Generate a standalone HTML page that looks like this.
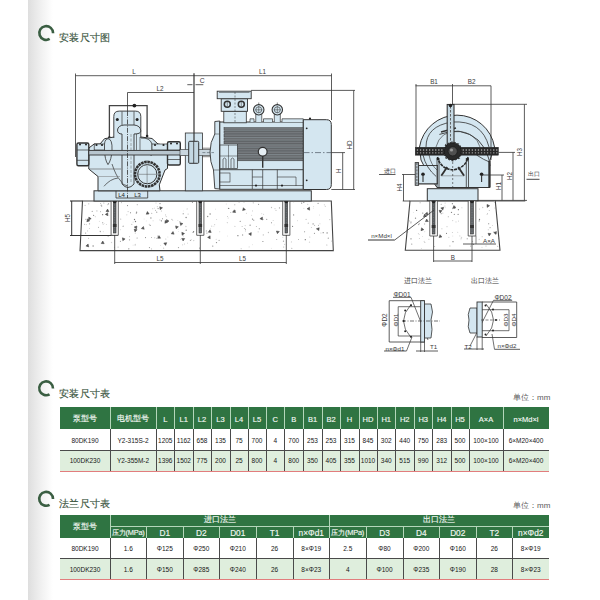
<!DOCTYPE html><html><head><meta charset="utf-8"><style>
*{margin:0;padding:0;box-sizing:border-box}
html,body{width:600px;height:600px;overflow:hidden;background:#fff;font-family:"Liberation Sans",sans-serif}
.a{position:absolute}
.shade{position:absolute;left:28px;top:0;width:25px;height:600px;background:linear-gradient(90deg,#dedede 0%,#e9e9e9 30%,#f3f3f3 60%,#fcfcfc 90%,#fff 100%)}
.ttl{position:absolute;font-size:10px;color:#3a5540;font-weight:normal;-webkit-text-stroke:0.15px #3a5540;letter-spacing:0.3px;line-height:12px;white-space:nowrap}
.unit{position:absolute;font-size:8px;color:#5a5a5a;line-height:10px;white-space:nowrap}
.c{position:absolute;display:flex;align-items:center;justify-content:center;white-space:nowrap;overflow:visible}
.h{color:#f2f7f2;font-size:7.5px;-webkit-text-stroke:0.15px #f2f7f2}
.d{color:#161616;font-size:6.5px}
</style></head><body>
<div class="shade"></div>
<div class="a" style="left:60px;top:407px;width:489px;height:22px;background:#2f7442"></div>
<div class="a" style="left:60px;top:450px;width:489px;height:21px;background:#dfeedd"></div>
<div class="c h" style="left:60px;top:407px;width:50px;height:22px;padding-top:2px;">泵型号</div>
<div class="c d" style="left:60px;top:429px;width:50px;height:21px;padding-top:2px;">80DK190</div>
<div class="c d" style="left:60px;top:450px;width:50px;height:21px;padding-top:0.3px;">100DK230</div>
<div class="c h" style="left:110px;top:407px;width:46px;height:22px;padding-top:2px;">电机型号</div>
<div class="c d" style="left:110px;top:429px;width:46px;height:21px;padding-top:2px;">Y2-315S-2</div>
<div class="c d" style="left:110px;top:450px;width:46px;height:21px;padding-top:0.3px;">Y2-355M-2</div>
<div class="c h" style="left:156px;top:407px;width:18.5px;height:22px;padding-top:2px;">L</div>
<div class="c d" style="left:156px;top:429px;width:18.5px;height:21px;padding-top:2px;">1205</div>
<div class="c d" style="left:156px;top:450px;width:18.5px;height:21px;padding-top:0.3px;">1396</div>
<div class="c h" style="left:174.5px;top:407px;width:18.5px;height:22px;padding-top:2px;">L1</div>
<div class="c d" style="left:174.5px;top:429px;width:18.5px;height:21px;padding-top:2px;">1162</div>
<div class="c d" style="left:174.5px;top:450px;width:18.5px;height:21px;padding-top:0.3px;">1502</div>
<div class="c h" style="left:193px;top:407px;width:18px;height:22px;padding-top:2px;">L2</div>
<div class="c d" style="left:193px;top:429px;width:18px;height:21px;padding-top:2px;">658</div>
<div class="c d" style="left:193px;top:450px;width:18px;height:21px;padding-top:0.3px;">775</div>
<div class="c h" style="left:211px;top:407px;width:19px;height:22px;padding-top:2px;">L3</div>
<div class="c d" style="left:211px;top:429px;width:19px;height:21px;padding-top:2px;">135</div>
<div class="c d" style="left:211px;top:450px;width:19px;height:21px;padding-top:0.3px;">200</div>
<div class="c h" style="left:230px;top:407px;width:18px;height:22px;padding-top:2px;">L4</div>
<div class="c d" style="left:230px;top:429px;width:18px;height:21px;padding-top:2px;">75</div>
<div class="c d" style="left:230px;top:450px;width:18px;height:21px;padding-top:0.3px;">25</div>
<div class="c h" style="left:248px;top:407px;width:18px;height:22px;padding-top:2px;">L5</div>
<div class="c d" style="left:248px;top:429px;width:18px;height:21px;padding-top:2px;">700</div>
<div class="c d" style="left:248px;top:450px;width:18px;height:21px;padding-top:0.3px;">800</div>
<div class="c h" style="left:266px;top:407px;width:18.5px;height:22px;padding-top:2px;">C</div>
<div class="c d" style="left:266px;top:429px;width:18.5px;height:21px;padding-top:2px;">4</div>
<div class="c d" style="left:266px;top:450px;width:18.5px;height:21px;padding-top:0.3px;">4</div>
<div class="c h" style="left:284.5px;top:407px;width:18.5px;height:22px;padding-top:2px;">B</div>
<div class="c d" style="left:284.5px;top:429px;width:18.5px;height:21px;padding-top:2px;">700</div>
<div class="c d" style="left:284.5px;top:450px;width:18.5px;height:21px;padding-top:0.3px;">800</div>
<div class="c h" style="left:303px;top:407px;width:19px;height:22px;padding-top:2px;">B1</div>
<div class="c d" style="left:303px;top:429px;width:19px;height:21px;padding-top:2px;">253</div>
<div class="c d" style="left:303px;top:450px;width:19px;height:21px;padding-top:0.3px;">350</div>
<div class="c h" style="left:322px;top:407px;width:18px;height:22px;padding-top:2px;">B2</div>
<div class="c d" style="left:322px;top:429px;width:18px;height:21px;padding-top:2px;">253</div>
<div class="c d" style="left:322px;top:450px;width:18px;height:21px;padding-top:0.3px;">405</div>
<div class="c h" style="left:340px;top:407px;width:19px;height:22px;padding-top:2px;">H</div>
<div class="c d" style="left:340px;top:429px;width:19px;height:21px;padding-top:2px;">315</div>
<div class="c d" style="left:340px;top:450px;width:19px;height:21px;padding-top:0.3px;">355</div>
<div class="c h" style="left:359px;top:407px;width:18px;height:22px;padding-top:2px;">HD</div>
<div class="c d" style="left:359px;top:429px;width:18px;height:21px;padding-top:2px;">845</div>
<div class="c d" style="left:359px;top:450px;width:18px;height:21px;padding-top:0.3px;">1010</div>
<div class="c h" style="left:377px;top:407px;width:18.5px;height:22px;padding-top:2px;">H1</div>
<div class="c d" style="left:377px;top:429px;width:18.5px;height:21px;padding-top:2px;">302</div>
<div class="c d" style="left:377px;top:450px;width:18.5px;height:21px;padding-top:0.3px;">340</div>
<div class="c h" style="left:395.5px;top:407px;width:18.5px;height:22px;padding-top:2px;">H2</div>
<div class="c d" style="left:395.5px;top:429px;width:18.5px;height:21px;padding-top:2px;">440</div>
<div class="c d" style="left:395.5px;top:450px;width:18.5px;height:21px;padding-top:0.3px;">515</div>
<div class="c h" style="left:414px;top:407px;width:18.5px;height:22px;padding-top:2px;">H3</div>
<div class="c d" style="left:414px;top:429px;width:18.5px;height:21px;padding-top:2px;">750</div>
<div class="c d" style="left:414px;top:450px;width:18.5px;height:21px;padding-top:0.3px;">990</div>
<div class="c h" style="left:432.5px;top:407px;width:18.5px;height:22px;padding-top:2px;">H4</div>
<div class="c d" style="left:432.5px;top:429px;width:18.5px;height:21px;padding-top:2px;">283</div>
<div class="c d" style="left:432.5px;top:450px;width:18.5px;height:21px;padding-top:0.3px;">312</div>
<div class="c h" style="left:451px;top:407px;width:18px;height:22px;padding-top:2px;">H5</div>
<div class="c d" style="left:451px;top:429px;width:18px;height:21px;padding-top:2px;">500</div>
<div class="c d" style="left:451px;top:450px;width:18px;height:21px;padding-top:0.3px;">500</div>
<div class="c h" style="left:469px;top:407px;width:34px;height:22px;padding-top:2px;">A×A</div>
<div class="c d" style="left:469px;top:429px;width:34px;height:21px;padding-top:2px;">100×100</div>
<div class="c d" style="left:469px;top:450px;width:34px;height:21px;padding-top:0.3px;">100×100</div>
<div class="c h" style="left:503px;top:407px;width:46px;height:22px;padding-top:2px;">n×Md×l</div>
<div class="c d" style="left:503px;top:429px;width:46px;height:21px;padding-top:2px;">6×M20×400</div>
<div class="c d" style="left:503px;top:450px;width:46px;height:21px;padding-top:0.3px;">6×M20×400</div>
<div class="a" style="left:109.5px;top:407px;width:1px;height:22px;background:#b4d6ba"></div>
<div class="a" style="left:109.5px;top:429px;width:1px;height:42px;background:#4a4a4a"></div>
<div class="a" style="left:155.5px;top:407px;width:1px;height:22px;background:#b4d6ba"></div>
<div class="a" style="left:155.5px;top:429px;width:1px;height:42px;background:#4a4a4a"></div>
<div class="a" style="left:174.0px;top:407px;width:1px;height:22px;background:#b4d6ba"></div>
<div class="a" style="left:174.0px;top:429px;width:1px;height:42px;background:#4a4a4a"></div>
<div class="a" style="left:192.5px;top:407px;width:1px;height:22px;background:#b4d6ba"></div>
<div class="a" style="left:192.5px;top:429px;width:1px;height:42px;background:#4a4a4a"></div>
<div class="a" style="left:210.5px;top:407px;width:1px;height:22px;background:#b4d6ba"></div>
<div class="a" style="left:210.5px;top:429px;width:1px;height:42px;background:#4a4a4a"></div>
<div class="a" style="left:229.5px;top:407px;width:1px;height:22px;background:#b4d6ba"></div>
<div class="a" style="left:229.5px;top:429px;width:1px;height:42px;background:#4a4a4a"></div>
<div class="a" style="left:247.5px;top:407px;width:1px;height:22px;background:#b4d6ba"></div>
<div class="a" style="left:247.5px;top:429px;width:1px;height:42px;background:#4a4a4a"></div>
<div class="a" style="left:265.5px;top:407px;width:1px;height:22px;background:#b4d6ba"></div>
<div class="a" style="left:265.5px;top:429px;width:1px;height:42px;background:#4a4a4a"></div>
<div class="a" style="left:284.0px;top:407px;width:1px;height:22px;background:#b4d6ba"></div>
<div class="a" style="left:284.0px;top:429px;width:1px;height:42px;background:#4a4a4a"></div>
<div class="a" style="left:302.5px;top:407px;width:1px;height:22px;background:#b4d6ba"></div>
<div class="a" style="left:302.5px;top:429px;width:1px;height:42px;background:#4a4a4a"></div>
<div class="a" style="left:321.5px;top:407px;width:1px;height:22px;background:#b4d6ba"></div>
<div class="a" style="left:321.5px;top:429px;width:1px;height:42px;background:#4a4a4a"></div>
<div class="a" style="left:339.5px;top:407px;width:1px;height:22px;background:#b4d6ba"></div>
<div class="a" style="left:339.5px;top:429px;width:1px;height:42px;background:#4a4a4a"></div>
<div class="a" style="left:358.5px;top:407px;width:1px;height:22px;background:#b4d6ba"></div>
<div class="a" style="left:358.5px;top:429px;width:1px;height:42px;background:#4a4a4a"></div>
<div class="a" style="left:376.5px;top:407px;width:1px;height:22px;background:#b4d6ba"></div>
<div class="a" style="left:376.5px;top:429px;width:1px;height:42px;background:#4a4a4a"></div>
<div class="a" style="left:395.0px;top:407px;width:1px;height:22px;background:#b4d6ba"></div>
<div class="a" style="left:395.0px;top:429px;width:1px;height:42px;background:#4a4a4a"></div>
<div class="a" style="left:413.5px;top:407px;width:1px;height:22px;background:#b4d6ba"></div>
<div class="a" style="left:413.5px;top:429px;width:1px;height:42px;background:#4a4a4a"></div>
<div class="a" style="left:432.0px;top:407px;width:1px;height:22px;background:#b4d6ba"></div>
<div class="a" style="left:432.0px;top:429px;width:1px;height:42px;background:#4a4a4a"></div>
<div class="a" style="left:450.5px;top:407px;width:1px;height:22px;background:#b4d6ba"></div>
<div class="a" style="left:450.5px;top:429px;width:1px;height:42px;background:#4a4a4a"></div>
<div class="a" style="left:468.5px;top:407px;width:1px;height:22px;background:#b4d6ba"></div>
<div class="a" style="left:468.5px;top:429px;width:1px;height:42px;background:#4a4a4a"></div>
<div class="a" style="left:502.5px;top:407px;width:1px;height:22px;background:#b4d6ba"></div>
<div class="a" style="left:502.5px;top:429px;width:1px;height:42px;background:#4a4a4a"></div>
<div class="a" style="left:60px;top:449.5px;width:489px;height:1px;background:#4a4a4a"></div>
<div class="a" style="left:60px;top:470.5px;width:489px;height:1.2px;background:#e27d7d"></div>
<div class="a" style="left:60px;top:514.5px;width:489px;height:23.0px;background:#2f7442"></div>
<div class="a" style="left:60px;top:558px;width:489px;height:21px;background:#dfeedd"></div>
<div class="c h" style="left:60px;top:514.5px;width:50px;height:23.0px;padding-top:2px;">泵型号</div>
<div class="c h" style="left:110px;top:514.5px;width:219.5px;height:11.5px;">进口法兰</div>
<div class="c h" style="left:329.5px;top:514.5px;width:219.5px;height:11.5px;">出口法兰</div>
<div class="c h" style="left:110px;top:526px;width:36.5px;height:11.5px;padding-top:1.5px;font-size:7.4px;letter-spacing:-0.2px;">压力(MPa)</div>
<div class="c h" style="left:146.5px;top:526px;width:36.5px;height:11.5px;padding-top:1.5px;font-size:8.3px;">D1</div>
<div class="c h" style="left:183px;top:526px;width:36.5px;height:11.5px;padding-top:1.5px;font-size:8.3px;">D2</div>
<div class="c h" style="left:219.5px;top:526px;width:36.5px;height:11.5px;padding-top:1.5px;font-size:8.3px;">D01</div>
<div class="c h" style="left:256px;top:526px;width:37px;height:11.5px;padding-top:1.5px;font-size:8.3px;">T1</div>
<div class="c h" style="left:293px;top:526px;width:36.5px;height:11.5px;padding-top:1.5px;font-size:8.3px;">n×Φd1</div>
<div class="c h" style="left:329.5px;top:526px;width:36.5px;height:11.5px;padding-top:1.5px;font-size:7.4px;letter-spacing:-0.2px;">压力(MPa)</div>
<div class="c h" style="left:366px;top:526px;width:37px;height:11.5px;padding-top:1.5px;font-size:8.3px;">D3</div>
<div class="c h" style="left:403px;top:526px;width:36.5px;height:11.5px;padding-top:1.5px;font-size:8.3px;">D4</div>
<div class="c h" style="left:439.5px;top:526px;width:36.5px;height:11.5px;padding-top:1.5px;font-size:8.3px;">D02</div>
<div class="c h" style="left:476px;top:526px;width:36.5px;height:11.5px;padding-top:1.5px;font-size:8.3px;">T2</div>
<div class="c h" style="left:512.5px;top:526px;width:36.5px;height:11.5px;padding-top:1.5px;font-size:8.3px;">n×Φd2</div>
<div class="c d" style="left:60px;top:537.5px;width:50px;height:20.5px;padding-top:2px;">80DK190</div>
<div class="c d" style="left:60px;top:558px;width:50px;height:21px;padding-top:1px;">100DK230</div>
<div class="c d" style="left:110px;top:537.5px;width:36.5px;height:20.5px;padding-top:2px;">1.6</div>
<div class="c d" style="left:110px;top:558px;width:36.5px;height:21px;padding-top:1px;">1.6</div>
<div class="c d" style="left:146.5px;top:537.5px;width:36.5px;height:20.5px;padding-top:2px;">Φ125</div>
<div class="c d" style="left:146.5px;top:558px;width:36.5px;height:21px;padding-top:1px;">Φ150</div>
<div class="c d" style="left:183px;top:537.5px;width:36.5px;height:20.5px;padding-top:2px;">Φ250</div>
<div class="c d" style="left:183px;top:558px;width:36.5px;height:21px;padding-top:1px;">Φ285</div>
<div class="c d" style="left:219.5px;top:537.5px;width:36.5px;height:20.5px;padding-top:2px;">Φ210</div>
<div class="c d" style="left:219.5px;top:558px;width:36.5px;height:21px;padding-top:1px;">Φ240</div>
<div class="c d" style="left:256px;top:537.5px;width:37px;height:20.5px;padding-top:2px;">26</div>
<div class="c d" style="left:256px;top:558px;width:37px;height:21px;padding-top:1px;">26</div>
<div class="c d" style="left:293px;top:537.5px;width:36.5px;height:20.5px;padding-top:2px;">8×Φ19</div>
<div class="c d" style="left:293px;top:558px;width:36.5px;height:21px;padding-top:1px;">8×Φ23</div>
<div class="c d" style="left:329.5px;top:537.5px;width:36.5px;height:20.5px;padding-top:2px;">2.5</div>
<div class="c d" style="left:329.5px;top:558px;width:36.5px;height:21px;padding-top:1px;">4</div>
<div class="c d" style="left:366px;top:537.5px;width:37px;height:20.5px;padding-top:2px;">Φ80</div>
<div class="c d" style="left:366px;top:558px;width:37px;height:21px;padding-top:1px;">Φ100</div>
<div class="c d" style="left:403px;top:537.5px;width:36.5px;height:20.5px;padding-top:2px;">Φ200</div>
<div class="c d" style="left:403px;top:558px;width:36.5px;height:21px;padding-top:1px;">Φ235</div>
<div class="c d" style="left:439.5px;top:537.5px;width:36.5px;height:20.5px;padding-top:2px;">Φ160</div>
<div class="c d" style="left:439.5px;top:558px;width:36.5px;height:21px;padding-top:1px;">Φ190</div>
<div class="c d" style="left:476px;top:537.5px;width:36.5px;height:20.5px;padding-top:2px;">26</div>
<div class="c d" style="left:476px;top:558px;width:36.5px;height:21px;padding-top:1px;">28</div>
<div class="c d" style="left:512.5px;top:537.5px;width:36.5px;height:20.5px;padding-top:2px;">8×Φ19</div>
<div class="c d" style="left:512.5px;top:558px;width:36.5px;height:21px;padding-top:1px;">8×Φ23</div>
<div class="a" style="left:110px;top:525.5px;width:439px;height:1px;background:#b4d6ba"></div>
<div class="a" style="left:109.5px;top:514.5px;width:1px;height:23.0px;background:#b4d6ba"></div>
<div class="a" style="left:109.5px;top:537.5px;width:1px;height:41.5px;background:#4a4a4a"></div>
<div class="a" style="left:146.0px;top:526px;width:1px;height:11.5px;background:#b4d6ba"></div>
<div class="a" style="left:146.0px;top:537.5px;width:1px;height:41.5px;background:#4a4a4a"></div>
<div class="a" style="left:182.5px;top:526px;width:1px;height:11.5px;background:#b4d6ba"></div>
<div class="a" style="left:182.5px;top:537.5px;width:1px;height:41.5px;background:#4a4a4a"></div>
<div class="a" style="left:219.0px;top:526px;width:1px;height:11.5px;background:#b4d6ba"></div>
<div class="a" style="left:219.0px;top:537.5px;width:1px;height:41.5px;background:#4a4a4a"></div>
<div class="a" style="left:255.5px;top:526px;width:1px;height:11.5px;background:#b4d6ba"></div>
<div class="a" style="left:255.5px;top:537.5px;width:1px;height:41.5px;background:#4a4a4a"></div>
<div class="a" style="left:292.5px;top:526px;width:1px;height:11.5px;background:#b4d6ba"></div>
<div class="a" style="left:292.5px;top:537.5px;width:1px;height:41.5px;background:#4a4a4a"></div>
<div class="a" style="left:329.0px;top:514.5px;width:1px;height:23.0px;background:#b4d6ba"></div>
<div class="a" style="left:329.0px;top:537.5px;width:1px;height:41.5px;background:#4a4a4a"></div>
<div class="a" style="left:365.5px;top:526px;width:1px;height:11.5px;background:#b4d6ba"></div>
<div class="a" style="left:365.5px;top:537.5px;width:1px;height:41.5px;background:#4a4a4a"></div>
<div class="a" style="left:402.5px;top:526px;width:1px;height:11.5px;background:#b4d6ba"></div>
<div class="a" style="left:402.5px;top:537.5px;width:1px;height:41.5px;background:#4a4a4a"></div>
<div class="a" style="left:439.0px;top:526px;width:1px;height:11.5px;background:#b4d6ba"></div>
<div class="a" style="left:439.0px;top:537.5px;width:1px;height:41.5px;background:#4a4a4a"></div>
<div class="a" style="left:475.5px;top:526px;width:1px;height:11.5px;background:#b4d6ba"></div>
<div class="a" style="left:475.5px;top:537.5px;width:1px;height:41.5px;background:#4a4a4a"></div>
<div class="a" style="left:512.0px;top:526px;width:1px;height:11.5px;background:#b4d6ba"></div>
<div class="a" style="left:512.0px;top:537.5px;width:1px;height:41.5px;background:#4a4a4a"></div>
<div class="a" style="left:60px;top:557.5px;width:489px;height:1px;background:#4a4a4a"></div>
<div class="a" style="left:60px;top:578.5px;width:489px;height:1.2px;background:#e27d7d"></div>
<div class="ttl" style="left:59px;top:32.3px">安装尺寸图</div>
<div class="ttl" style="left:59px;top:387.5px">安装尺寸表</div>
<div class="ttl" style="left:59px;top:498px">法兰尺寸表</div>
<div class="unit" style="left:513px;top:392.5px">单位：mm</div>
<div class="unit" style="left:513px;top:501px">单位：mm</div>
<svg class="a" style="left:0;top:0" width="600" height="600" viewBox="0 0 600 600"><path d="M53.10,33.24 A6.9,6.9 0 1 0 49.65,38.98" fill="none" stroke="#3a5e42" stroke-width="2.6"/><path d="M53.00,388.54 A6.9,6.9 0 1 0 49.55,394.28" fill="none" stroke="#3a5e42" stroke-width="2.6"/><path d="M53.00,499.04 A6.9,6.9 0 1 0 49.55,504.78" fill="none" stroke="#3a5e42" stroke-width="2.6"/><path d="M82.5,201 L331.3,201 L333.3,250.6 L80,250.6 Z" fill="#fff" stroke="#444" stroke-width="1.1" /><circle cx="313.1" cy="223.9" r="0.65" fill="#888"/><circle cx="129.5" cy="239.8" r="0.65" fill="#a0a0a0"/><circle cx="235.5" cy="210.8" r="0.55" fill="#a0a0a0"/><circle cx="304.6" cy="231.8" r="0.55" fill="#888"/><circle cx="323.2" cy="232.7" r="0.65" fill="#888"/><circle cx="121.4" cy="202.7" r="0.45" fill="#888"/><circle cx="96.9" cy="210.9" r="0.65" fill="#bdbdbd"/><circle cx="89.5" cy="223.8" r="0.65" fill="#a0a0a0"/><circle cx="292.6" cy="226.4" r="0.55" fill="#777"/><circle cx="206.9" cy="233.1" r="0.65" fill="#a0a0a0"/><circle cx="151.5" cy="248.9" r="0.65" fill="#c8c8c8"/><circle cx="145.5" cy="237.6" r="0.55" fill="#888"/><circle cx="89.4" cy="228.5" r="0.55" fill="#c8c8c8"/><circle cx="109.0" cy="215.7" r="0.45" fill="#c8c8c8"/><circle cx="293.8" cy="202.0" r="0.45" fill="#bdbdbd"/><circle cx="199.5" cy="248.1" r="0.55" fill="#a0a0a0"/><circle cx="100.3" cy="231.6" r="0.55" fill="#777"/><circle cx="166.2" cy="216.6" r="0.55" fill="#c8c8c8"/><circle cx="271.5" cy="207.5" r="0.65" fill="#bdbdbd"/><circle cx="107.3" cy="204.8" r="0.45" fill="#a0a0a0"/><circle cx="252.5" cy="210.9" r="0.45" fill="#888"/><circle cx="328.3" cy="238.2" r="0.65" fill="#a0a0a0"/><circle cx="177.9" cy="220.6" r="0.45" fill="#bdbdbd"/><circle cx="149.4" cy="247.6" r="0.55" fill="#888"/><circle cx="128.8" cy="248.8" r="0.65" fill="#888"/><circle cx="226.2" cy="204.0" r="0.45" fill="#bdbdbd"/><circle cx="192.4" cy="202.5" r="0.55" fill="#888"/><circle cx="100.6" cy="211.8" r="0.45" fill="#777"/><circle cx="85.9" cy="219.3" r="0.55" fill="#888"/><circle cx="178.5" cy="231.5" r="0.45" fill="#d2d2d2"/><circle cx="129.5" cy="236.8" r="0.45" fill="#888"/><circle cx="253.7" cy="220.2" r="0.65" fill="#a0a0a0"/><circle cx="101.6" cy="204.2" r="0.45" fill="#c8c8c8"/><circle cx="210.1" cy="214.0" r="0.65" fill="#777"/><circle cx="179.9" cy="221.8" r="0.55" fill="#888"/><circle cx="155.4" cy="210.2" r="0.45" fill="#777"/><circle cx="245.4" cy="230.9" r="0.55" fill="#c8c8c8"/><circle cx="135.1" cy="245.0" r="0.45" fill="#777"/><circle cx="99.3" cy="221.3" r="0.45" fill="#bdbdbd"/><circle cx="93.6" cy="215.3" r="0.65" fill="#888"/><circle cx="325.3" cy="206.3" r="0.55" fill="#bdbdbd"/><circle cx="327.1" cy="232.9" r="0.65" fill="#777"/><circle cx="228.1" cy="208.6" r="0.45" fill="#c8c8c8"/><circle cx="160.0" cy="203.6" r="0.65" fill="#888"/><circle cx="100.7" cy="205.2" r="0.55" fill="#d2d2d2"/><circle cx="93.1" cy="246.0" r="0.65" fill="#777"/><circle cx="114.4" cy="247.3" r="0.55" fill="#d2d2d2"/><circle cx="103.2" cy="224.2" r="0.55" fill="#c8c8c8"/><circle cx="318.1" cy="203.4" r="0.65" fill="#a0a0a0"/><circle cx="85.6" cy="233.1" r="0.65" fill="#a0a0a0"/><circle cx="85.1" cy="205.4" r="0.65" fill="#c8c8c8"/><circle cx="186.1" cy="217.5" r="0.65" fill="#777"/><circle cx="227.2" cy="222.7" r="0.45" fill="#888"/><circle cx="211.7" cy="226.2" r="0.65" fill="#d2d2d2"/><circle cx="103.9" cy="203.0" r="0.45" fill="#777"/><circle cx="206.3" cy="230.9" r="0.55" fill="#a0a0a0"/><circle cx="306.1" cy="219.3" r="0.65" fill="#bdbdbd"/><circle cx="234.9" cy="226.4" r="0.65" fill="#d2d2d2"/><circle cx="314.6" cy="225.4" r="0.55" fill="#bdbdbd"/><circle cx="183.2" cy="213.8" r="0.55" fill="#777"/><circle cx="282.9" cy="237.5" r="0.45" fill="#bdbdbd"/><circle cx="178.1" cy="229.4" r="0.45" fill="#d2d2d2"/><circle cx="291.3" cy="241.9" r="0.45" fill="#777"/><circle cx="319.5" cy="215.0" r="0.45" fill="#bdbdbd"/><circle cx="135.5" cy="221.5" r="0.65" fill="#777"/><circle cx="291.8" cy="248.2" r="0.55" fill="#a0a0a0"/><circle cx="100.7" cy="203.5" r="0.45" fill="#888"/><circle cx="251.6" cy="215.2" r="0.55" fill="#d2d2d2"/><circle cx="244.3" cy="228.5" r="0.45" fill="#777"/><circle cx="183.3" cy="210.9" r="0.45" fill="#d2d2d2"/><circle cx="276.8" cy="239.5" r="0.45" fill="#777"/><circle cx="193.6" cy="231.6" r="0.65" fill="#777"/><circle cx="283.8" cy="247.0" r="0.45" fill="#777"/><circle cx="131.8" cy="224.3" r="0.65" fill="#bdbdbd"/><circle cx="84.7" cy="224.2" r="0.45" fill="#777"/><circle cx="126.8" cy="214.8" r="0.65" fill="#d2d2d2"/><circle cx="256.3" cy="226.5" r="0.45" fill="#888"/><circle cx="180.4" cy="239.2" r="0.45" fill="#bdbdbd"/><circle cx="184.6" cy="244.0" r="0.45" fill="#a0a0a0"/><circle cx="303.8" cy="202.3" r="0.65" fill="#888"/><circle cx="245.2" cy="225.6" r="0.55" fill="#d2d2d2"/><circle cx="163.6" cy="248.2" r="0.65" fill="#c8c8c8"/><circle cx="298.5" cy="239.5" r="0.45" fill="#777"/><circle cx="135.3" cy="244.3" r="0.55" fill="#c8c8c8"/><circle cx="216.2" cy="239.2" r="0.55" fill="#d2d2d2"/><circle cx="309.5" cy="242.2" r="0.65" fill="#d2d2d2"/><circle cx="102.7" cy="222.7" r="0.55" fill="#888"/><circle cx="274.1" cy="224.9" r="0.45" fill="#c8c8c8"/><circle cx="165.8" cy="239.0" r="0.55" fill="#bdbdbd"/><circle cx="262.9" cy="241.5" r="0.55" fill="#777"/><circle cx="318.4" cy="225.2" r="0.45" fill="#777"/><circle cx="271.5" cy="222.7" r="0.55" fill="#888"/><circle cx="123.1" cy="226.2" r="0.55" fill="#888"/><circle cx="159.9" cy="219.9" r="0.45" fill="#888"/><circle cx="158.1" cy="208.6" r="0.65" fill="#888"/><circle cx="150.2" cy="225.4" r="0.65" fill="#a0a0a0"/><circle cx="176.3" cy="227.3" r="0.65" fill="#c8c8c8"/><circle cx="311.3" cy="227.6" r="0.45" fill="#888"/><circle cx="98.5" cy="227.3" r="0.55" fill="#a0a0a0"/><circle cx="149.3" cy="224.2" r="0.55" fill="#bdbdbd"/><circle cx="190.4" cy="240.3" r="0.65" fill="#a0a0a0"/><circle cx="161.3" cy="211.0" r="0.45" fill="#888"/><circle cx="313.3" cy="208.1" r="0.45" fill="#c8c8c8"/><circle cx="130.5" cy="212.7" r="0.55" fill="#777"/><circle cx="162.5" cy="218.7" r="0.55" fill="#888"/><circle cx="108.2" cy="236.4" r="0.65" fill="#c8c8c8"/><circle cx="237.9" cy="235.7" r="0.65" fill="#777"/><circle cx="301.7" cy="203.1" r="0.55" fill="#777"/><circle cx="216.5" cy="242.6" r="0.65" fill="#888"/><circle cx="136.6" cy="212.2" r="0.65" fill="#888"/><circle cx="228.7" cy="208.4" r="0.65" fill="#777"/><circle cx="284.6" cy="244.4" r="0.65" fill="#d2d2d2"/><circle cx="160.7" cy="245.4" r="0.45" fill="#bdbdbd"/><circle cx="303.9" cy="208.3" r="0.45" fill="#bdbdbd"/><circle cx="263.6" cy="214.2" r="0.55" fill="#c8c8c8"/><circle cx="279.5" cy="207.9" r="0.65" fill="#a0a0a0"/><circle cx="253.3" cy="202.8" r="0.65" fill="#bdbdbd"/><circle cx="252.6" cy="244.8" r="0.45" fill="#d2d2d2"/><circle cx="258.2" cy="231.8" r="0.65" fill="#d2d2d2"/><circle cx="331.6" cy="241.1" r="0.55" fill="#c8c8c8"/><circle cx="108.5" cy="203.8" r="0.65" fill="#888"/><circle cx="210.7" cy="228.7" r="0.45" fill="#bdbdbd"/><circle cx="128.1" cy="211.6" r="0.55" fill="#bdbdbd"/><circle cx="313.7" cy="206.5" r="0.45" fill="#c8c8c8"/><circle cx="319.9" cy="223.7" r="0.55" fill="#c8c8c8"/><circle cx="179.7" cy="222.0" r="0.55" fill="#d2d2d2"/><circle cx="134.5" cy="219.5" r="0.65" fill="#777"/><circle cx="92.2" cy="211.4" r="0.55" fill="#a0a0a0"/><circle cx="171.9" cy="219.4" r="0.65" fill="#bdbdbd"/><circle cx="123.3" cy="226.1" r="0.55" fill="#c8c8c8"/><circle cx="305.3" cy="239.7" r="0.65" fill="#777"/><circle cx="316.9" cy="228.8" r="0.65" fill="#bdbdbd"/><circle cx="228.2" cy="218.0" r="0.55" fill="#d2d2d2"/><circle cx="309.8" cy="237.0" r="0.55" fill="#bdbdbd"/><circle cx="216.7" cy="219.4" r="0.45" fill="#a0a0a0"/><circle cx="183.4" cy="236.0" r="0.55" fill="#c8c8c8"/><circle cx="157.4" cy="206.7" r="0.65" fill="#d2d2d2"/><circle cx="307.7" cy="204.3" r="0.65" fill="#d2d2d2"/><circle cx="156.7" cy="212.2" r="0.65" fill="#a0a0a0"/><circle cx="127.5" cy="205.6" r="0.55" fill="#888"/><circle cx="242.6" cy="235.0" r="0.65" fill="#a0a0a0"/><circle cx="87.7" cy="230.9" r="0.45" fill="#777"/><circle cx="146.2" cy="220.9" r="0.45" fill="#c8c8c8"/><circle cx="244.0" cy="202.5" r="0.55" fill="#d2d2d2"/><circle cx="150.9" cy="218.0" r="0.65" fill="#888"/><circle cx="185.9" cy="226.5" r="0.65" fill="#c8c8c8"/><circle cx="193.1" cy="232.3" r="0.65" fill="#888"/><circle cx="249.1" cy="246.9" r="0.45" fill="#a0a0a0"/><circle cx="178.5" cy="247.6" r="0.65" fill="#a0a0a0"/><circle cx="234.8" cy="204.8" r="0.55" fill="#a0a0a0"/><circle cx="153.1" cy="220.7" r="0.55" fill="#d2d2d2"/><circle cx="214.6" cy="224.7" r="0.65" fill="#d2d2d2"/><circle cx="314.4" cy="233.2" r="0.55" fill="#777"/><circle cx="88.7" cy="238.3" r="0.45" fill="#888"/><circle cx="240.2" cy="221.2" r="0.55" fill="#777"/><circle cx="95.2" cy="216.8" r="0.45" fill="#a0a0a0"/><circle cx="227.4" cy="236.0" r="0.45" fill="#d2d2d2"/><circle cx="261.8" cy="213.8" r="0.45" fill="#bdbdbd"/><circle cx="212.8" cy="246.1" r="0.55" fill="#777"/><circle cx="118.1" cy="247.1" r="0.65" fill="#bdbdbd"/><circle cx="258.6" cy="204.4" r="0.55" fill="#a0a0a0"/><circle cx="111.5" cy="242.5" r="0.65" fill="#d2d2d2"/><circle cx="120.7" cy="219.1" r="0.65" fill="#bdbdbd"/><circle cx="186.2" cy="230.2" r="0.65" fill="#777"/><circle cx="252.5" cy="219.1" r="0.65" fill="#777"/><circle cx="154.5" cy="208.1" r="0.45" fill="#a0a0a0"/><circle cx="207.7" cy="216.5" r="0.65" fill="#888"/><circle cx="293.6" cy="214.9" r="0.65" fill="#888"/><circle cx="263.3" cy="234.9" r="0.65" fill="#bdbdbd"/><circle cx="151.7" cy="213.3" r="0.65" fill="#bdbdbd"/><circle cx="326.9" cy="245.0" r="0.45" fill="#777"/><circle cx="239.1" cy="202.4" r="0.55" fill="#d2d2d2"/><circle cx="88.7" cy="203.8" r="0.65" fill="#bdbdbd"/><circle cx="151.6" cy="237.5" r="0.45" fill="#777"/><circle cx="219.7" cy="231.7" r="0.55" fill="#d2d2d2"/><circle cx="167.9" cy="237.0" r="0.45" fill="#c8c8c8"/><circle cx="193.8" cy="240.6" r="0.55" fill="#bdbdbd"/><circle cx="188.1" cy="214.1" r="0.55" fill="#bdbdbd"/><circle cx="120.4" cy="241.3" r="0.55" fill="#888"/><circle cx="154.7" cy="237.7" r="0.55" fill="#bdbdbd"/><circle cx="245.5" cy="229.3" r="0.55" fill="#a0a0a0"/><circle cx="101.6" cy="205.9" r="0.65" fill="#888"/><circle cx="156.7" cy="238.4" r="0.55" fill="#c8c8c8"/><circle cx="135.3" cy="233.1" r="0.65" fill="#c8c8c8"/><circle cx="158.0" cy="236.1" r="0.55" fill="#777"/><circle cx="152.7" cy="208.7" r="0.65" fill="#d2d2d2"/><circle cx="263.5" cy="219.2" r="0.55" fill="#c8c8c8"/><circle cx="259.3" cy="228.8" r="0.55" fill="#777"/><circle cx="191.5" cy="239.7" r="0.55" fill="#d2d2d2"/><circle cx="161.4" cy="220.8" r="0.65" fill="#777"/><circle cx="144.1" cy="219.0" r="0.45" fill="#d2d2d2"/><circle cx="172.8" cy="220.6" r="0.45" fill="#a0a0a0"/><circle cx="266.7" cy="219.3" r="0.65" fill="#a0a0a0"/><circle cx="120.7" cy="229.8" r="0.45" fill="#bdbdbd"/><circle cx="104.4" cy="223.4" r="0.45" fill="#d2d2d2"/><circle cx="137.3" cy="204.7" r="0.65" fill="#bdbdbd"/><circle cx="156.0" cy="203.0" r="0.45" fill="#a0a0a0"/><circle cx="227.5" cy="216.4" r="0.45" fill="#888"/><circle cx="165.6" cy="214.9" r="0.55" fill="#c8c8c8"/><circle cx="103.2" cy="231.8" r="0.45" fill="#bdbdbd"/><circle cx="268.4" cy="232.5" r="0.65" fill="#bdbdbd"/><circle cx="137.1" cy="238.0" r="0.55" fill="#888"/><circle cx="273.2" cy="220.5" r="0.55" fill="#d2d2d2"/><circle cx="250.1" cy="225.2" r="0.65" fill="#888"/><circle cx="100.1" cy="231.1" r="0.55" fill="#c8c8c8"/><circle cx="271.3" cy="248.3" r="0.45" fill="#d2d2d2"/><circle cx="283.5" cy="241.2" r="0.65" fill="#a0a0a0"/><circle cx="242.1" cy="226.6" r="0.45" fill="#777"/><circle cx="187.1" cy="208.9" r="0.45" fill="#777"/><circle cx="329.8" cy="219.6" r="0.55" fill="#bdbdbd"/><circle cx="133.1" cy="222.0" r="0.55" fill="#d2d2d2"/><circle cx="324.4" cy="204.8" r="0.65" fill="#d2d2d2"/><circle cx="276.0" cy="210.4" r="0.55" fill="#c8c8c8"/><circle cx="86.3" cy="224.6" r="0.55" fill="#c8c8c8"/><circle cx="136.3" cy="213.1" r="0.55" fill="#777"/><circle cx="230.7" cy="212.5" r="0.55" fill="#bdbdbd"/><circle cx="182.6" cy="244.8" r="0.65" fill="#d2d2d2"/><circle cx="219.1" cy="240.4" r="0.55" fill="#a0a0a0"/><circle cx="320.9" cy="233.0" r="0.55" fill="#c8c8c8"/><circle cx="297.6" cy="220.8" r="0.45" fill="#bdbdbd"/><circle cx="213.9" cy="226.2" r="0.45" fill="#d2d2d2"/><circle cx="246.4" cy="213.2" r="0.55" fill="#c8c8c8"/><circle cx="308.3" cy="223.2" r="0.65" fill="#bdbdbd"/><circle cx="187.4" cy="243.1" r="0.45" fill="#a0a0a0"/><circle cx="275.0" cy="208.8" r="0.45" fill="#888"/><circle cx="241.2" cy="248.7" r="0.65" fill="#d2d2d2"/><circle cx="215.6" cy="209.1" r="0.45" fill="#bdbdbd"/><circle cx="133.1" cy="245.1" r="0.45" fill="#bdbdbd"/><circle cx="102.6" cy="214.7" r="0.65" fill="#777"/><circle cx="106.3" cy="224.6" r="0.45" fill="#a0a0a0"/><polygon points="319.2,227.7 318.8,230.6 316.5,228.8" fill="#555" stroke="#444" stroke-width="0.5"/><polygon points="157.6,238.2 159.1,235.7 160.5,238.2" fill="#555" stroke="#444" stroke-width="0.5"/><polygon points="309.5,207.2 309.6,210.2 307.0,208.8" fill="#555" stroke="#444" stroke-width="0.5"/><polygon points="134.2,227.0 136.9,226.0 136.5,228.9" fill="#555" stroke="#444" stroke-width="0.5"/><polygon points="122.8,240.7 122.4,237.8 125.1,238.9" fill="#555" stroke="#444" stroke-width="0.5"/><polygon points="160.2,209.7 159.7,206.8 162.5,207.8" fill="#555" stroke="#444" stroke-width="0.5"/><polygon points="174.1,234.2 171.2,233.8 173.0,231.5" fill="#555" stroke="#444" stroke-width="0.5"/><polygon points="182.9,223.6 180.7,225.5 180.1,222.7" fill="#555" stroke="#444" stroke-width="0.5"/><polygon points="87.6,218.8 89.7,220.9 86.8,221.7" fill="#555" stroke="#444" stroke-width="0.5"/><polygon points="141.3,228.6 143.4,226.5 144.2,229.3" fill="#555" stroke="#444" stroke-width="0.5"/><polygon points="88.1,244.0 88.7,246.9 85.9,246.0" fill="#555" stroke="#444" stroke-width="0.5"/><polygon points="135.0,231.9 134.2,229.1 137.1,229.8" fill="#555" stroke="#444" stroke-width="0.5"/><polygon points="176.2,228.8 175.6,225.9 178.4,226.8" fill="#555" stroke="#444" stroke-width="0.5"/><polygon points="166.5,219.6 169.0,221.1 166.5,222.6" fill="#555" stroke="#444" stroke-width="0.5"/><polygon points="147.4,211.5 149.1,213.9 146.2,214.2" fill="#555" stroke="#444" stroke-width="0.5"/><polygon points="163.8,243.1 166.7,242.7 165.6,245.4" fill="#555" stroke="#444" stroke-width="0.5"/><polygon points="262.4,217.1 262.5,220.0 259.9,218.7" fill="#555" stroke="#444" stroke-width="0.5"/><polygon points="108.9,211.7 106.0,211.5 107.6,209.1" fill="#555" stroke="#444" stroke-width="0.5"/><polygon points="251.1,235.6 248.7,233.9 251.3,232.6" fill="#555" stroke="#444" stroke-width="0.5"/><polygon points="181.7,238.4 184.7,238.5 183.1,241.0" fill="#555" stroke="#444" stroke-width="0.5"/><polygon points="107.9,215.7 105.3,214.4 107.7,212.8" fill="#555" stroke="#444" stroke-width="0.5"/><polygon points="101.2,243.5 102.8,241.0 104.2,243.7" fill="#555" stroke="#444" stroke-width="0.5"/><polygon points="210.0,229.8 211.2,232.5 208.3,232.2" fill="#555" stroke="#444" stroke-width="0.5"/><polygon points="167.6,222.1 164.9,223.3 165.2,220.4" fill="#555" stroke="#444" stroke-width="0.5"/><polygon points="184.5,233.5 182.1,235.3 181.8,232.3" fill="#555" stroke="#444" stroke-width="0.5"/><polygon points="276.4,231.0 279.3,231.5 277.4,233.7" fill="#555" stroke="#444" stroke-width="0.5"/><polygon points="88.6,220.0 88.8,217.1 91.2,218.7" fill="#555" stroke="#444" stroke-width="0.5"/><polygon points="242.6,210.5 243.4,207.7 245.4,209.8" fill="#555" stroke="#444" stroke-width="0.5"/><polygon points="210.1,235.8 210.2,238.8 207.6,237.4" fill="#555" stroke="#444" stroke-width="0.5"/><polygon points="234.4,209.8 235.6,212.5 232.6,212.2" fill="#555" stroke="#444" stroke-width="0.5"/><line x1="70" y1="201" x2="82.5" y2="201" stroke="#333" stroke-width="1.1"/><line x1="71.7" y1="201" x2="71.7" y2="235.5" stroke="#333" stroke-width="1.0"/><line x1="70" y1="235.5" x2="118" y2="235.5" stroke="#333" stroke-width="1.1"/><text x="67.3" y="218" font-size="6.3" fill="#3a3a3a" text-anchor="middle" dominant-baseline="central" font-family="Liberation Sans, sans-serif" transform="rotate(-90 67.3 218)" >H5</text><path d="M111.10000000000001,201 V235.3 H118.3 V201" fill="#fff" stroke="#555" stroke-width="0.9" /><rect x="113.4" y="201" width="2.6" height="32" rx="0" fill="#6a6f73" stroke="#2a2a2a" stroke-width="0.6"/><line x1="114.7" y1="203" x2="114.7" y2="231" stroke="#444" stroke-width="0.5" stroke-dasharray="1.5,1"/><rect x="112.9" y="224" width="3.6" height="3" rx="0" fill="#333" stroke="none" stroke-width="0.9"/><circle cx="114.7" cy="201.3" r="1.9" fill="#222"/><path d="M196.70000000000002,201 V235.3 H203.9 V201" fill="#fff" stroke="#555" stroke-width="0.9" /><rect x="199.0" y="201" width="2.6" height="32" rx="0" fill="#6a6f73" stroke="#2a2a2a" stroke-width="0.6"/><line x1="200.3" y1="203" x2="200.3" y2="231" stroke="#444" stroke-width="0.5" stroke-dasharray="1.5,1"/><rect x="198.5" y="224" width="3.6" height="3" rx="0" fill="#333" stroke="none" stroke-width="0.9"/><circle cx="200.3" cy="201.3" r="1.9" fill="#222"/><path d="M282.7,201 V235.3 H289.90000000000003 V201" fill="#fff" stroke="#555" stroke-width="0.9" /><rect x="285.0" y="201" width="2.6" height="32" rx="0" fill="#6a6f73" stroke="#2a2a2a" stroke-width="0.6"/><line x1="286.3" y1="203" x2="286.3" y2="231" stroke="#444" stroke-width="0.5" stroke-dasharray="1.5,1"/><rect x="284.5" y="224" width="3.6" height="3" rx="0" fill="#333" stroke="none" stroke-width="0.9"/><circle cx="286.3" cy="201.3" r="1.9" fill="#222"/><line x1="114.7" y1="235" x2="114.7" y2="264" stroke="#333" stroke-width="0.8"/><line x1="200.3" y1="235" x2="200.3" y2="264" stroke="#333" stroke-width="0.8"/><line x1="286.3" y1="235" x2="286.3" y2="264" stroke="#333" stroke-width="0.8"/><line x1="114.7" y1="262.5" x2="286.3" y2="262.5" stroke="#333" stroke-width="0.8"/><text x="160" y="258.6" font-size="6.3" fill="#3a3a3a" text-anchor="middle" dominant-baseline="central" font-family="Liberation Sans, sans-serif" >L5</text><text x="242.5" y="258.6" font-size="6.3" fill="#3a3a3a" text-anchor="middle" dominant-baseline="central" font-family="Liberation Sans, sans-serif" >L5</text><rect x="94" y="190.8" width="217.3" height="10.2" rx="0" fill="#d4e6f0" stroke="#333" stroke-width="1.0"/><path d="M116,191 V198 H147.7 V191" fill="none" stroke="#333" stroke-width="0.8" /><text x="121.5" y="195" font-size="6" fill="#222" text-anchor="middle" dominant-baseline="central" font-family="Liberation Sans, sans-serif" >L4</text><text x="137.5" y="195" font-size="6" fill="#222" text-anchor="middle" dominant-baseline="central" font-family="Liberation Sans, sans-serif" >L3</text><path d="M109.4,138 V105.6 H147.1 V136" fill="none" stroke="#444" stroke-width="1.3" /><circle cx="134.4" cy="105.6" r="1.9" fill="#222"/><circle cx="109.4" cy="137.5" r="1.3" fill="#222"/><circle cx="147.1" cy="136" r="1.3" fill="#222"/><path d="M88.8,153 L88.8,169 L98,176.5 L98,190.8 L160,190.8 L159.3,184.8 L165,170 L167.5,168.5 L167.5,146 L158,144 L152,138.5 L141,137 L114,137 L104.5,138.7 L100,144 L94.2,144 L88.8,148 Z" fill="#d4e6f0" stroke="#333" stroke-width="1.0" /><path d="M113.8,138 V116.5 Q113.8,111.1 119.2,111.1 H135.4 Q140.8,111.1 140.8,116.5 V138" fill="#d4e6f0" stroke="#333" stroke-width="0.9" /><circle cx="117.3" cy="119.4" r="1.5" fill="#222"/><circle cx="137.1" cy="119.4" r="1.5" fill="#222"/><path d="M122,184 V134 Q117.5,134 117.5,130 Q118,125.5 124,125 H134 Q140.5,125.5 140.8,131 Q140.8,134 134,134 V184 Q128,191 122,184 Z" fill="#d4e6f0" stroke="#333" stroke-width="0.9" /><path d="M122,111.5 V125 M134,111.5 V125" fill="none" stroke="#333" stroke-width="0.7" /><line x1="136.5" y1="134" x2="136.5" y2="150" stroke="#333" stroke-width="0.6"/><line x1="140" y1="137" x2="140" y2="150" stroke="#333" stroke-width="0.6"/><line x1="131" y1="134" x2="131" y2="183" stroke="#666" stroke-width="0.5" stroke-dasharray="3,1.5"/><path d="M104.5,150 Q103.5,139 108,138.7 Q112.5,139 112,150 Q111.5,160 108,164.6 Q104.8,160 104.5,150 Z" fill="#d4e6f0" stroke="#333" stroke-width="0.8" /><path d="M141,138 Q150,137.5 152,144 Q152.5,150 151,156" fill="none" stroke="#333" stroke-width="0.8" /><path d="M112,164 Q116,176 120,180 Q123,186 128,186" fill="none" stroke="#333" stroke-width="0.7" /><path d="M104,186.3 Q110,179 118,178" fill="none" stroke="#333" stroke-width="0.7" /><line x1="88.8" y1="169" x2="121" y2="169" stroke="#555" stroke-width="0.6"/><line x1="98" y1="176.5" x2="120" y2="176.5" stroke="#777" stroke-width="0.5"/><rect x="94.2" y="144" width="10.3" height="6" rx="0" fill="#d4e6f0" stroke="#333" stroke-width="0.7"/><circle cx="96.5" cy="145" r="1.1" fill="#222"/><circle cx="102" cy="145" r="1.1" fill="#222"/><rect x="152" y="144" width="15.5" height="6" rx="0" fill="#d4e6f0" stroke="#333" stroke-width="0.7"/><circle cx="155" cy="145" r="1.1" fill="#222"/><circle cx="163.5" cy="145" r="1.1" fill="#222"/><rect x="76.9" y="143" width="11.9" height="22.7" rx="1.5" fill="#d4e6f0" stroke="#333" stroke-width="1.4"/><line x1="76.9" y1="150" x2="88.8" y2="150" stroke="#333" stroke-width="0.7"/><line x1="76.9" y1="160.3" x2="88.8" y2="160.3" stroke="#333" stroke-width="0.7"/><circle cx="80" cy="144.5" r="1.0" fill="#222"/><circle cx="86" cy="144.5" r="1.0" fill="#222"/><rect x="167.5" y="141.7" width="12.8" height="23.3" rx="1.5" fill="#d4e6f0" stroke="#333" stroke-width="1.4"/><line x1="167.5" y1="150" x2="180.3" y2="150" stroke="#333" stroke-width="0.7"/><line x1="167.5" y1="159.5" x2="180.3" y2="159.5" stroke="#333" stroke-width="0.7"/><circle cx="171" cy="143.5" r="1.0" fill="#222"/><circle cx="177" cy="143.5" r="1.0" fill="#222"/><rect x="88.8" y="150.4" width="97" height="4.6" rx="0" fill="#b8c6cf" stroke="#333" stroke-width="0.9"/><circle cx="147.3" cy="174.2" r="12.3" fill="#d4e6f0" stroke="#333" stroke-width="2.6" stroke-dasharray="2.6,0.6"/><circle cx="147.3" cy="174.2" r="9.6" fill="#d4e6f0" stroke="#333" stroke-width="1.0" /><line x1="138" y1="174.3" x2="156" y2="174.3" stroke="#555" stroke-width="0.5"/><line x1="147.1" y1="165.5" x2="147.1" y2="183" stroke="#555" stroke-width="0.5"/><line x1="127.5" y1="92.5" x2="127.5" y2="111" stroke="#333" stroke-width="0.8"/><line x1="127.5" y1="111" x2="127.5" y2="198" stroke="#333" stroke-width="0.8" stroke-dasharray="5,1.2,1,1.2"/><rect x="185.3" y="133" width="17.1" height="57.8" rx="0" fill="#d4e6f0" stroke="#333" stroke-width="0.8"/><rect x="180" y="149.5" width="32" height="6" rx="0" fill="#c9d6de" stroke="#333" stroke-width="0.6"/><line x1="202.4" y1="148.2" x2="211" y2="148.2" stroke="#333" stroke-width="0.6"/><line x1="202.4" y1="156.7" x2="211" y2="156.7" stroke="#333" stroke-width="0.6"/><rect x="188.7" y="141.3" width="10" height="22" rx="1" fill="#c4d8e3" stroke="#333" stroke-width="1.0"/><line x1="193.7" y1="141.3" x2="193.7" y2="163.3" stroke="#333" stroke-width="0.8"/><path d="M219.8,121 L214.8,121.5 L214.8,134 Q210,142 210,152 Q210,162 213.5,170 L214.8,188.6 L219.8,189 Z" fill="#d4e6f0" stroke="#333" stroke-width="0.9" /><line x1="214.8" y1="134" x2="219.8" y2="134" stroke="#333" stroke-width="0.5"/><line x1="213.5" y1="170" x2="219.8" y2="170" stroke="#333" stroke-width="0.5"/><rect x="219.8" y="122" width="83.5" height="67.3" rx="0" fill="#d4e6f0" stroke="#333" stroke-width="1.0"/><rect x="224" y="127.7" width="79.30000000000001" height="2.5" rx="0" fill="#74787c" stroke="#333" stroke-width="0.5"/><rect x="224" y="131.1" width="79.30000000000001" height="2.5" rx="0" fill="#74787c" stroke="#333" stroke-width="0.5"/><rect x="224" y="134.5" width="79.30000000000001" height="2.5" rx="0" fill="#74787c" stroke="#333" stroke-width="0.5"/><rect x="224" y="137.9" width="79.30000000000001" height="2.5" rx="0" fill="#74787c" stroke="#333" stroke-width="0.5"/><rect x="224" y="141.3" width="79.30000000000001" height="2.5" rx="0" fill="#74787c" stroke="#333" stroke-width="0.5"/><rect x="237.5" y="144.7" width="65.80000000000001" height="2.5" rx="0" fill="#74787c" stroke="#333" stroke-width="0.5"/><rect x="237.5" y="148.1" width="65.80000000000001" height="2.5" rx="0" fill="#74787c" stroke="#333" stroke-width="0.5"/><rect x="237.5" y="151.5" width="65.80000000000001" height="2.5" rx="0" fill="#74787c" stroke="#333" stroke-width="0.5"/><rect x="237.5" y="154.9" width="65.80000000000001" height="2.5" rx="0" fill="#74787c" stroke="#333" stroke-width="0.5"/><rect x="237.5" y="158.3" width="65.80000000000001" height="2.5" rx="0" fill="#74787c" stroke="#333" stroke-width="0.5"/><rect x="220" y="145" width="17.5" height="23.5" rx="0" fill="#d4e6f0" stroke="#333" stroke-width="0.7"/><line x1="228.5" y1="145" x2="228.5" y2="168.5" stroke="#333" stroke-width="0.5"/><line x1="220" y1="156" x2="237.5" y2="156" stroke="#333" stroke-width="0.5"/><path d="M223,168 V159 Q224.5,157 226,159 V168 M231,168 V159 Q232.5,157 234,159 V168" fill="none" stroke="#333" stroke-width="0.6" /><line x1="219.8" y1="169.7" x2="303.3" y2="169.7" stroke="#333" stroke-width="0.9"/><line x1="252.3" y1="169.7" x2="252.3" y2="189" stroke="#333" stroke-width="0.7"/><line x1="262.7" y1="169.7" x2="262.7" y2="189" stroke="#333" stroke-width="0.7"/><line x1="277.3" y1="169.7" x2="277.3" y2="189" stroke="#333" stroke-width="0.7"/><path d="M252.3,177 H262.7 M277.3,177 H296 V186" fill="none" stroke="#333" stroke-width="0.6" /><rect x="220" y="173" width="10" height="9" rx="0" fill="#d4e6f0" stroke="#333" stroke-width="0.6"/><line x1="219.8" y1="185.5" x2="303.3" y2="185.5" stroke="#333" stroke-width="0.6"/><circle cx="256" cy="185.6" r="1.1" fill="#222"/><circle cx="282" cy="185.6" r="1.1" fill="#222"/><circle cx="262.7" cy="151.7" r="4.4" fill="#e6eef3" stroke="#333" stroke-width="1.2" /><line x1="262.7" y1="156" x2="262.7" y2="167.7" stroke="#333" stroke-width="1.4"/><rect x="223.8" y="111.3" width="22.5" height="11.5" rx="0" fill="#d4e6f0" stroke="#333" stroke-width="0.8"/><rect x="221.2" y="98.7" width="26.3" height="12.6" rx="0" fill="#d4e6f0" stroke="#333" stroke-width="0.9"/><rect x="217.2" y="91.2" width="34" height="7.5" rx="0" fill="#d4e6f0" stroke="#333" stroke-width="0.9"/><line x1="219" y1="92.5" x2="249.5" y2="92.5" stroke="#333" stroke-width="0.5"/><circle cx="227.3" cy="104.3" r="3.0" fill="#d4e6f0" stroke="#333" stroke-width="1.5" /><circle cx="241.3" cy="104.3" r="3.0" fill="#d4e6f0" stroke="#333" stroke-width="1.5" /><line x1="227.3" y1="102" x2="227.3" y2="106.5" stroke="#333" stroke-width="0.5"/><line x1="241.3" y1="102" x2="241.3" y2="106.5" stroke="#333" stroke-width="0.5"/><line x1="235" y1="92" x2="235" y2="122" stroke="#333" stroke-width="0.5" stroke-dasharray="2,1.5"/><path d="M250,122 V118.8 H254 V122 M263.5,122 V118.8 H272.5 V122 M282,122 V118.8 H303.3 V122" fill="#d4e6f0" stroke="#333" stroke-width="0.7" /><path d="M255.75,122 V114 H261.75 V122" fill="#d4e6f0" stroke="#333" stroke-width="0.7" /><circle cx="258.75" cy="109.8" r="5.2" fill="#d4e6f0" stroke="#333" stroke-width="1.1" /><circle cx="258.75" cy="109.8" r="3.0" fill="none" stroke="#333" stroke-width="0.6" /><line x1="255.25" y1="109.8" x2="262.25" y2="109.8" stroke="#333" stroke-width="0.5"/><line x1="258.75" y1="106" x2="258.75" y2="113" stroke="#333" stroke-width="0.5"/><line x1="258.75" y1="102.5" x2="258.75" y2="104.6" stroke="#333" stroke-width="0.6"/><path d="M274.3,122 V114 H280.3 V122" fill="#d4e6f0" stroke="#333" stroke-width="0.7" /><circle cx="277.3" cy="109.8" r="5.2" fill="#d4e6f0" stroke="#333" stroke-width="1.1" /><circle cx="277.3" cy="109.8" r="3.0" fill="none" stroke="#333" stroke-width="0.6" /><line x1="273.8" y1="109.8" x2="280.8" y2="109.8" stroke="#333" stroke-width="0.5"/><line x1="277.3" y1="106" x2="277.3" y2="113" stroke="#333" stroke-width="0.5"/><line x1="277.3" y1="102.5" x2="277.3" y2="104.6" stroke="#333" stroke-width="0.6"/><path d="M303.3,119.7 H326.5 Q331.3,119.7 331.3,124.5 V184.7 Q331.3,189.5 326.5,189.5 H303.3 Z" fill="#d4e6f0" stroke="#333" stroke-width="1.0" /><circle cx="306.7" cy="128.3" r="0.9" fill="#222"/><circle cx="306.7" cy="180.3" r="0.9" fill="#222"/><circle cx="310" cy="118.7" r="1.1" fill="#222"/><line x1="75.5" y1="75.7" x2="331.5" y2="75.7" stroke="#333" stroke-width="0.8"/><line x1="75.5" y1="73.5" x2="75.5" y2="157" stroke="#333" stroke-width="0.8"/><line x1="194" y1="73.3" x2="194" y2="141" stroke="#333" stroke-width="1.2"/><line x1="331.5" y1="73.5" x2="331.5" y2="120" stroke="#333" stroke-width="0.8"/><text x="134" y="71.6" font-size="6.3" fill="#3a3a3a" text-anchor="middle" dominant-baseline="central" font-family="Liberation Sans, sans-serif" >L</text><text x="262.5" y="71.6" font-size="6.3" fill="#3a3a3a" text-anchor="middle" dominant-baseline="central" font-family="Liberation Sans, sans-serif" >L1</text><line x1="127.5" y1="92.5" x2="194" y2="92.5" stroke="#333" stroke-width="0.8"/><text x="160" y="88.3" font-size="6.3" fill="#3a3a3a" text-anchor="middle" dominant-baseline="central" font-family="Liberation Sans, sans-serif" >L2</text><line x1="187.3" y1="84.7" x2="192.5" y2="84.7" stroke="#333" stroke-width="0.8"/><line x1="195.5" y1="84.7" x2="203.3" y2="84.7" stroke="#333" stroke-width="0.8"/><text x="202.3" y="80.6" font-size="6.8" fill="#3a3a3a" text-anchor="middle" dominant-baseline="central" font-family="Liberation Sans, sans-serif" >C</text><line x1="251" y1="90.4" x2="355" y2="90.4" stroke="#333" stroke-width="0.8"/><line x1="353.7" y1="90.4" x2="353.7" y2="189.5" stroke="#333" stroke-width="0.8"/><line x1="331.3" y1="189.5" x2="355" y2="189.5" stroke="#333" stroke-width="0.8"/><text x="349" y="145" font-size="6.3" fill="#3a3a3a" text-anchor="middle" dominant-baseline="central" font-family="Liberation Sans, sans-serif" transform="rotate(-90 349 145)" >HD</text><line x1="342.7" y1="152.6" x2="342.7" y2="189.5" stroke="#333" stroke-width="0.8"/><line x1="331.3" y1="152.6" x2="345" y2="152.6" stroke="#333" stroke-width="0.8"/><text x="338.2" y="170.7" font-size="6.3" fill="#3a3a3a" text-anchor="middle" dominant-baseline="central" font-family="Liberation Sans, sans-serif" transform="rotate(-90 338.2 170.7)" >H</text><line x1="303.5" y1="152.6" x2="331" y2="152.6" stroke="#4a5560" stroke-width="0.7" stroke-dasharray="6,2,1.5,2"/><line x1="202.4" y1="152.6" x2="214" y2="152.6" stroke="#4a5560" stroke-width="0.6" stroke-dasharray="3,1.5"/><path d="M410,201 L495.3,201 L500,250.3 L405.3,250.3 Z" fill="#fff" stroke="#444" stroke-width="1.1" /><circle cx="490.0" cy="227.8" r="0.65" fill="#d2d2d2"/><circle cx="452.5" cy="208.7" r="0.45" fill="#777"/><circle cx="472.5" cy="241.3" r="0.65" fill="#bdbdbd"/><circle cx="493.9" cy="231.5" r="0.45" fill="#bdbdbd"/><circle cx="418.7" cy="224.5" r="0.65" fill="#a0a0a0"/><circle cx="487.1" cy="214.5" r="0.55" fill="#c8c8c8"/><circle cx="490.1" cy="227.5" r="0.45" fill="#888"/><circle cx="458.1" cy="214.4" r="0.55" fill="#777"/><circle cx="461.9" cy="207.8" r="0.55" fill="#c8c8c8"/><circle cx="421.4" cy="230.1" r="0.55" fill="#c8c8c8"/><circle cx="497.8" cy="246.2" r="0.45" fill="#777"/><circle cx="461.0" cy="239.8" r="0.45" fill="#c8c8c8"/><circle cx="424.6" cy="224.0" r="0.65" fill="#bdbdbd"/><circle cx="441.9" cy="228.8" r="0.55" fill="#bdbdbd"/><circle cx="454.3" cy="214.4" r="0.55" fill="#888"/><circle cx="411.0" cy="238.8" r="0.65" fill="#777"/><circle cx="479.2" cy="220.9" r="0.65" fill="#a0a0a0"/><circle cx="415.5" cy="218.2" r="0.65" fill="#888"/><circle cx="458.5" cy="221.1" r="0.55" fill="#d2d2d2"/><circle cx="488.7" cy="223.8" r="0.55" fill="#777"/><circle cx="482.7" cy="207.5" r="0.65" fill="#c8c8c8"/><circle cx="445.1" cy="203.1" r="0.55" fill="#c8c8c8"/><circle cx="473.5" cy="244.3" r="0.55" fill="#777"/><circle cx="461.6" cy="237.3" r="0.65" fill="#d2d2d2"/><circle cx="487.6" cy="213.5" r="0.45" fill="#a0a0a0"/><circle cx="452.7" cy="220.6" r="0.55" fill="#c8c8c8"/><circle cx="442.8" cy="213.1" r="0.65" fill="#c8c8c8"/><circle cx="495.9" cy="233.3" r="0.55" fill="#888"/><circle cx="458.4" cy="209.7" r="0.65" fill="#777"/><circle cx="445.2" cy="207.8" r="0.45" fill="#c8c8c8"/><circle cx="454.3" cy="208.1" r="0.65" fill="#888"/><circle cx="494.4" cy="202.0" r="0.65" fill="#bdbdbd"/><circle cx="411.8" cy="244.1" r="0.55" fill="#888"/><circle cx="419.1" cy="234.5" r="0.45" fill="#bdbdbd"/><circle cx="419.3" cy="238.5" r="0.45" fill="#a0a0a0"/><circle cx="424.9" cy="242.4" r="0.45" fill="#777"/><circle cx="424.2" cy="241.4" r="0.55" fill="#d2d2d2"/><circle cx="407.5" cy="231.9" r="0.65" fill="#777"/><circle cx="424.8" cy="231.7" r="0.45" fill="#bdbdbd"/><circle cx="482.0" cy="247.2" r="0.55" fill="#d2d2d2"/><circle cx="470.7" cy="246.1" r="0.55" fill="#a0a0a0"/><circle cx="413.3" cy="212.5" r="0.45" fill="#d2d2d2"/><circle cx="422.8" cy="213.1" r="0.55" fill="#777"/><circle cx="479.5" cy="219.5" r="0.65" fill="#777"/><circle cx="488.3" cy="229.7" r="0.55" fill="#bdbdbd"/><circle cx="489.3" cy="210.5" r="0.55" fill="#bdbdbd"/><circle cx="418.3" cy="233.4" r="0.45" fill="#a0a0a0"/><circle cx="447.0" cy="226.8" r="0.45" fill="#888"/><circle cx="456.0" cy="221.9" r="0.45" fill="#888"/><circle cx="421.3" cy="248.5" r="0.45" fill="#bdbdbd"/><circle cx="422.7" cy="236.5" r="0.45" fill="#c8c8c8"/><circle cx="479.5" cy="209.1" r="0.65" fill="#c8c8c8"/><circle cx="448.9" cy="237.3" r="0.45" fill="#a0a0a0"/><circle cx="492.4" cy="225.5" r="0.45" fill="#bdbdbd"/><circle cx="457.7" cy="232.3" r="0.55" fill="#d2d2d2"/><circle cx="467.2" cy="238.8" r="0.55" fill="#888"/><circle cx="453.0" cy="241.7" r="0.65" fill="#777"/><circle cx="461.2" cy="238.2" r="0.65" fill="#c8c8c8"/><circle cx="446.5" cy="233.4" r="0.55" fill="#888"/><circle cx="479.2" cy="239.2" r="0.55" fill="#bdbdbd"/><circle cx="451.5" cy="212.4" r="0.65" fill="#888"/><circle cx="452.4" cy="203.7" r="0.65" fill="#888"/><circle cx="410.9" cy="223.1" r="0.55" fill="#bdbdbd"/><circle cx="420.1" cy="202.8" r="0.55" fill="#a0a0a0"/><circle cx="452.8" cy="236.0" r="0.45" fill="#c8c8c8"/><circle cx="416.6" cy="210.4" r="0.65" fill="#777"/><circle cx="459.9" cy="235.9" r="0.45" fill="#888"/><circle cx="411.0" cy="222.0" r="0.55" fill="#777"/><circle cx="482.2" cy="236.7" r="0.65" fill="#d2d2d2"/><circle cx="452.3" cy="232.6" r="0.45" fill="#888"/><circle cx="441.2" cy="213.7" r="0.65" fill="#a0a0a0"/><circle cx="448.3" cy="216.8" r="0.55" fill="#a0a0a0"/><circle cx="495.0" cy="208.0" r="0.45" fill="#888"/><circle cx="419.4" cy="223.4" r="0.45" fill="#777"/><circle cx="454.9" cy="206.3" r="0.55" fill="#888"/><circle cx="449.9" cy="246.0" r="0.65" fill="#c8c8c8"/><circle cx="498.6" cy="237.9" r="0.65" fill="#777"/><circle cx="427.4" cy="213.9" r="0.45" fill="#888"/><circle cx="444.9" cy="206.0" r="0.55" fill="#bdbdbd"/><circle cx="434.7" cy="246.5" r="0.45" fill="#888"/><circle cx="409.7" cy="220.9" r="0.45" fill="#777"/><circle cx="490.8" cy="243.6" r="0.55" fill="#bdbdbd"/><circle cx="486.0" cy="246.0" r="0.55" fill="#bdbdbd"/><circle cx="441.2" cy="204.3" r="0.55" fill="#a0a0a0"/><circle cx="428.9" cy="239.3" r="0.55" fill="#bdbdbd"/><polygon points="425.1,214.1 427.2,212.2 427.8,215.1" fill="#555" stroke="#444" stroke-width="0.5"/><polygon points="496.5,231.6 496.0,234.4 493.7,232.5" fill="#555" stroke="#444" stroke-width="0.5"/><polygon points="428.3,221.5 425.4,221.6 426.7,219.0" fill="#555" stroke="#444" stroke-width="0.5"/><polygon points="423.5,216.8 424.6,214.1 426.4,216.4" fill="#555" stroke="#444" stroke-width="0.5"/><polygon points="489.2,236.0 488.0,233.3 490.9,233.6" fill="#555" stroke="#444" stroke-width="0.5"/><polygon points="442.0,210.6 440.2,213.0 439.1,210.3" fill="#555" stroke="#444" stroke-width="0.5"/><polygon points="440.0,234.7 441.9,237.0 439.0,237.5" fill="#555" stroke="#444" stroke-width="0.5"/><polygon points="487.2,207.4 487.0,204.4 489.6,205.7" fill="#555" stroke="#444" stroke-width="0.5"/><polygon points="443.7,207.3 442.8,210.1 440.8,207.9" fill="#555" stroke="#444" stroke-width="0.5"/><polygon points="452.8,208.3 453.9,205.6 455.8,207.9" fill="#555" stroke="#444" stroke-width="0.5"/><polygon points="423.8,229.7 421.0,230.7 421.6,227.8" fill="#555" stroke="#444" stroke-width="0.5"/><line x1="402.7" y1="201" x2="410" y2="201" stroke="#333" stroke-width="0.8"/><line x1="495.3" y1="201" x2="525.3" y2="201" stroke="#333" stroke-width="0.8"/><path d="M429.8,201 V236 H437.40000000000003 V201" fill="#fff" stroke="#555" stroke-width="0.9" /><rect x="432.20000000000005" y="201" width="2.8" height="33" rx="0" fill="#6a6f73" stroke="#2a2a2a" stroke-width="0.6"/><line x1="433.6" y1="203" x2="433.6" y2="232" stroke="#444" stroke-width="0.5" stroke-dasharray="1.5,1"/><rect x="431.70000000000005" y="225" width="3.8" height="3" rx="0" fill="#333" stroke="none" stroke-width="0.9"/><circle cx="433.6" cy="201.3" r="1.9" fill="#222"/><line x1="433.6" y1="236" x2="433.6" y2="262" stroke="#333" stroke-width="0.8"/><path d="M468.2,201 V236 H475.8 V201" fill="#fff" stroke="#555" stroke-width="0.9" /><rect x="470.6" y="201" width="2.8" height="33" rx="0" fill="#6a6f73" stroke="#2a2a2a" stroke-width="0.6"/><line x1="472" y1="203" x2="472" y2="232" stroke="#444" stroke-width="0.5" stroke-dasharray="1.5,1"/><rect x="470.1" y="225" width="3.8" height="3" rx="0" fill="#333" stroke="none" stroke-width="0.9"/><circle cx="472" cy="201.3" r="1.9" fill="#222"/><line x1="472" y1="236" x2="472" y2="262" stroke="#333" stroke-width="0.8"/><line x1="433.6" y1="261" x2="472" y2="261" stroke="#333" stroke-width="0.8"/><text x="452.8" y="257.7" font-size="6.3" fill="#3a3a3a" text-anchor="middle" dominant-baseline="central" font-family="Liberation Sans, sans-serif" >B</text><text x="381.5" y="235.3" font-size="6.2" fill="#3a3a3a" text-anchor="middle" dominant-baseline="central" font-family="Liberation Sans, sans-serif" >n×Md×l</text><line x1="368" y1="240" x2="394.7" y2="240" stroke="#333" stroke-width="1.0"/><line x1="394.7" y1="240" x2="434" y2="210" stroke="#333" stroke-width="0.8"/><text x="489" y="240" font-size="6.2" fill="#3a3a3a" text-anchor="middle" dominant-baseline="central" font-family="Liberation Sans, sans-serif" >A×A</text><line x1="463" y1="244" x2="496" y2="244" stroke="#333" stroke-width="0.8"/><line x1="476" y1="236" x2="476" y2="244" stroke="#333" stroke-width="0.6"/><rect x="427.3" y="188.7" width="50.7" height="12" rx="0" fill="#d4e6f0" stroke="#333" stroke-width="1.0"/><path d="M437,187.5 Q428,176 421,160 L419.5,147 A38,38 0 0 1 494.5,147 L490,160 V187.5 Z" fill="#d4e6f0" stroke="#333" stroke-width="1.0" /><rect x="418.6" y="165.5" width="19" height="18.4" rx="0" fill="#d4e6f0" stroke="#333" stroke-width="0.8"/><path d="M423,155 Q426,168 436.2,176.5" fill="none" stroke="#333" stroke-width="0.8" /><path d="M429,155 Q431,165 437,170" fill="none" stroke="#333" stroke-width="0.6" /><path d="M426,147 Q426,126 452,122 Q482,120 489,147" fill="none" stroke="#333" stroke-width="0.8" /><path d="M436,147 Q440,131 458,131 Q476,133 480,147" fill="none" stroke="#333" stroke-width="0.6" /><path d="M476.5,155 Q484,160 489.5,162" fill="none" stroke="#333" stroke-width="0.8" /><path d="M439.4,134.4 Q462,126 478,140 Q489,152 490,166" fill="none" stroke="#333" stroke-width="0.9" /><path d="M441,132 L456,128" fill="none" stroke="#333" stroke-width="1.3" /><path d="M437,158 V187.5 M439,158 V187.5 M466.3,158 V187.5 M468.5,158 V187.5" fill="none" stroke="#333" stroke-width="0.8" /><path d="M437.5,157 A15.5,15.5 0 0 0 468,157" fill="none" stroke="#2a2a2a" stroke-width="1.6" stroke-dasharray="3,0.8"/><line x1="447.2" y1="167" x2="441.3" y2="175.8" stroke="#2f2f2f" stroke-width="1.8"/><line x1="458.2" y1="167" x2="464.1" y2="175.8" stroke="#2f2f2f" stroke-width="1.8"/><line x1="441.3" y1="175.8" x2="464.1" y2="175.8" stroke="#666" stroke-width="0.5"/><line x1="452.7" y1="158" x2="452.7" y2="188" stroke="#333" stroke-width="0.6" stroke-dasharray="2,2"/><circle cx="438" cy="159" r="1.3" fill="#222"/><circle cx="467.5" cy="159" r="1.3" fill="#222"/><rect x="447.2" y="104.5" width="6.8" height="43" rx="0" fill="#c4d8e3" stroke="#333" stroke-width="1.1"/><line x1="450.5" y1="106" x2="450.5" y2="147" stroke="#555" stroke-width="0.9" stroke-dasharray="2.5,1.5"/><circle cx="450.5" cy="105.5" r="1.8" fill="#222"/><rect x="415.2" y="147.2" width="83.3" height="8" rx="0" fill="#262626" stroke="#222" stroke-width="0.4"/><rect x="416.8" y="149.2" width="1.3" height="1.6" fill="#9a9a9a"/><rect x="416.8" y="152.0" width="1.3" height="1.6" fill="#7a7a7a"/><rect x="419.9" y="149.2" width="1.3" height="1.6" fill="#9a9a9a"/><rect x="419.9" y="152.0" width="1.3" height="1.6" fill="#7a7a7a"/><rect x="422.9" y="149.2" width="1.3" height="1.6" fill="#9a9a9a"/><rect x="422.9" y="152.0" width="1.3" height="1.6" fill="#7a7a7a"/><rect x="425.9" y="149.2" width="1.3" height="1.6" fill="#9a9a9a"/><rect x="425.9" y="152.0" width="1.3" height="1.6" fill="#7a7a7a"/><rect x="429.0" y="149.2" width="1.3" height="1.6" fill="#9a9a9a"/><rect x="429.0" y="152.0" width="1.3" height="1.6" fill="#7a7a7a"/><rect x="432.1" y="149.2" width="1.3" height="1.6" fill="#9a9a9a"/><rect x="432.1" y="152.0" width="1.3" height="1.6" fill="#7a7a7a"/><rect x="435.1" y="149.2" width="1.3" height="1.6" fill="#9a9a9a"/><rect x="435.1" y="152.0" width="1.3" height="1.6" fill="#7a7a7a"/><rect x="438.2" y="149.2" width="1.3" height="1.6" fill="#9a9a9a"/><rect x="438.2" y="152.0" width="1.3" height="1.6" fill="#7a7a7a"/><rect x="441.2" y="149.2" width="1.3" height="1.6" fill="#9a9a9a"/><rect x="441.2" y="152.0" width="1.3" height="1.6" fill="#7a7a7a"/><rect x="444.2" y="149.2" width="1.3" height="1.6" fill="#9a9a9a"/><rect x="444.2" y="152.0" width="1.3" height="1.6" fill="#7a7a7a"/><rect x="447.3" y="149.2" width="1.3" height="1.6" fill="#9a9a9a"/><rect x="447.3" y="152.0" width="1.3" height="1.6" fill="#7a7a7a"/><rect x="450.4" y="149.2" width="1.3" height="1.6" fill="#9a9a9a"/><rect x="450.4" y="152.0" width="1.3" height="1.6" fill="#7a7a7a"/><rect x="453.4" y="149.2" width="1.3" height="1.6" fill="#9a9a9a"/><rect x="453.4" y="152.0" width="1.3" height="1.6" fill="#7a7a7a"/><rect x="456.4" y="149.2" width="1.3" height="1.6" fill="#9a9a9a"/><rect x="456.4" y="152.0" width="1.3" height="1.6" fill="#7a7a7a"/><rect x="459.5" y="149.2" width="1.3" height="1.6" fill="#9a9a9a"/><rect x="459.5" y="152.0" width="1.3" height="1.6" fill="#7a7a7a"/><rect x="462.6" y="149.2" width="1.3" height="1.6" fill="#9a9a9a"/><rect x="462.6" y="152.0" width="1.3" height="1.6" fill="#7a7a7a"/><rect x="465.6" y="149.2" width="1.3" height="1.6" fill="#9a9a9a"/><rect x="465.6" y="152.0" width="1.3" height="1.6" fill="#7a7a7a"/><rect x="468.6" y="149.2" width="1.3" height="1.6" fill="#9a9a9a"/><rect x="468.6" y="152.0" width="1.3" height="1.6" fill="#7a7a7a"/><rect x="471.7" y="149.2" width="1.3" height="1.6" fill="#9a9a9a"/><rect x="471.7" y="152.0" width="1.3" height="1.6" fill="#7a7a7a"/><rect x="474.8" y="149.2" width="1.3" height="1.6" fill="#9a9a9a"/><rect x="474.8" y="152.0" width="1.3" height="1.6" fill="#7a7a7a"/><rect x="477.8" y="149.2" width="1.3" height="1.6" fill="#9a9a9a"/><rect x="477.8" y="152.0" width="1.3" height="1.6" fill="#7a7a7a"/><rect x="480.9" y="149.2" width="1.3" height="1.6" fill="#9a9a9a"/><rect x="480.9" y="152.0" width="1.3" height="1.6" fill="#7a7a7a"/><rect x="483.9" y="149.2" width="1.3" height="1.6" fill="#9a9a9a"/><rect x="483.9" y="152.0" width="1.3" height="1.6" fill="#7a7a7a"/><rect x="486.9" y="149.2" width="1.3" height="1.6" fill="#9a9a9a"/><rect x="486.9" y="152.0" width="1.3" height="1.6" fill="#7a7a7a"/><rect x="490.0" y="149.2" width="1.3" height="1.6" fill="#9a9a9a"/><rect x="490.0" y="152.0" width="1.3" height="1.6" fill="#7a7a7a"/><rect x="493.1" y="149.2" width="1.3" height="1.6" fill="#9a9a9a"/><rect x="493.1" y="152.0" width="1.3" height="1.6" fill="#7a7a7a"/><rect x="496.1" y="149.2" width="1.3" height="1.6" fill="#9a9a9a"/><rect x="496.1" y="152.0" width="1.3" height="1.6" fill="#7a7a7a"/><circle cx="452.7" cy="151.3" r="8.6" fill="#2a2a2a" stroke="#111" stroke-width="0.8" /><polygon points="462.3,151.3 459.5,158.1 452.7,160.9 445.9,158.1 443.1,151.3 445.9,144.5 452.7,141.7 459.5,144.5" fill="none" stroke="#333" stroke-width="1.2" stroke-dasharray="2,1.5"/><circle cx="452.7" cy="151.3" r="4.6" fill="#505050" stroke="#1a1a1a" stroke-width="0.7" /><circle cx="451.5" cy="150" r="1.6" fill="#9a9a9a" stroke="none" stroke-width="0.9" /><line x1="419" y1="165.5" x2="437" y2="165.5" stroke="#333" stroke-width="0.7"/><line x1="419" y1="183.9" x2="437" y2="183.9" stroke="#333" stroke-width="0.7"/><rect x="415.2" y="162.6" width="3.4" height="22.7" rx="0" fill="#b7c3cb" stroke="#333" stroke-width="0.9"/><line x1="416.9" y1="163" x2="416.9" y2="185" stroke="#444" stroke-width="0.8" stroke-dasharray="2,1.2"/><circle cx="423" cy="174.3" r="1.8" fill="#222"/><line x1="423" y1="176" x2="423" y2="182" stroke="#333" stroke-width="1.1"/><line x1="491" y1="85.8" x2="491" y2="160" stroke="#333" stroke-width="0.8"/><line x1="489.3" y1="161" x2="489.3" y2="187.5" stroke="#333" stroke-width="2.0"/><circle cx="481.6" cy="174.3" r="1.8" fill="#222"/><line x1="481.6" y1="176" x2="481.6" y2="182" stroke="#333" stroke-width="1.1"/><line x1="415.5" y1="85.8" x2="491" y2="85.8" stroke="#333" stroke-width="0.8"/><line x1="416" y1="84" x2="416" y2="147" stroke="#333" stroke-width="0.8"/><line x1="452.5" y1="84" x2="452.5" y2="104.5" stroke="#333" stroke-width="0.8"/><text x="434" y="81.7" font-size="6.3" fill="#3a3a3a" text-anchor="middle" dominant-baseline="central" font-family="Liberation Sans, sans-serif" >B1</text><text x="471.7" y="81.7" font-size="6.3" fill="#3a3a3a" text-anchor="middle" dominant-baseline="central" font-family="Liberation Sans, sans-serif" >B2</text><line x1="452" y1="104.3" x2="527" y2="104.3" stroke="#333" stroke-width="0.8"/><line x1="524.4" y1="104.4" x2="524.4" y2="200.4" stroke="#333" stroke-width="0.8"/><text x="519.2" y="152" font-size="6.3" fill="#3a3a3a" text-anchor="middle" dominant-baseline="central" font-family="Liberation Sans, sans-serif" transform="rotate(-90 519.2 152)" >H3</text><line x1="498.5" y1="152.4" x2="515" y2="152.4" stroke="#333" stroke-width="0.8"/><line x1="513" y1="152.4" x2="513" y2="200.4" stroke="#333" stroke-width="0.8"/><text x="509" y="176" font-size="6.3" fill="#3a3a3a" text-anchor="middle" dominant-baseline="central" font-family="Liberation Sans, sans-serif" transform="rotate(-90 509 176)" >H2</text><line x1="482" y1="175" x2="504" y2="175" stroke="#333" stroke-width="0.8"/><line x1="502" y1="175" x2="502" y2="200.4" stroke="#333" stroke-width="0.8"/><text x="498" y="186" font-size="6.3" fill="#3a3a3a" text-anchor="middle" dominant-baseline="central" font-family="Liberation Sans, sans-serif" transform="rotate(-90 498 186)" >H1</text><line x1="478" y1="200.4" x2="527" y2="200.4" stroke="#333" stroke-width="0.8"/><text x="534" y="173.3" font-size="6.3" fill="#3a3a3a" text-anchor="middle" dominant-baseline="central" font-family="Liberation Sans, sans-serif" >出口</text><line x1="526.5" y1="179.3" x2="539.5" y2="179.3" stroke="#333" stroke-width="0.9"/><text x="389.7" y="170.5" font-size="6.3" fill="#3a3a3a" text-anchor="middle" dominant-baseline="central" font-family="Liberation Sans, sans-serif" >进口</text><line x1="379" y1="174.5" x2="395.5" y2="174.5" stroke="#333" stroke-width="0.8"/><line x1="402" y1="174.5" x2="415.2" y2="174.5" stroke="#333" stroke-width="0.8"/><line x1="403.5" y1="174.5" x2="403.5" y2="201" stroke="#333" stroke-width="0.8"/><text x="399.2" y="187.5" font-size="6.3" fill="#3a3a3a" text-anchor="middle" dominant-baseline="central" font-family="Liberation Sans, sans-serif" transform="rotate(-90 399.2 187.5)" >H4</text><text x="417.7" y="280.5" font-size="6.5" fill="#3a3a3a" text-anchor="middle" dominant-baseline="central" font-family="Liberation Sans, sans-serif" >进口法兰</text><text x="485.2" y="280.5" font-size="6.5" fill="#3a3a3a" text-anchor="middle" dominant-baseline="central" font-family="Liberation Sans, sans-serif" >出口法兰</text><text x="402" y="294" font-size="6.5" fill="#3a3a3a" text-anchor="middle" dominant-baseline="central" font-family="Liberation Sans, sans-serif" >ΦD01</text><line x1="393" y1="297.3" x2="411" y2="297.3" stroke="#333" stroke-width="0.8"/><line x1="411" y1="297.3" x2="428" y2="340" stroke="#333" stroke-width="0.7"/><path d="M424.5,300.7 H389.2 V342 H424.5" fill="none" stroke="#333" stroke-width="0.8" /><path d="M420.7,306.7 H398.2 V336 H420.7" fill="none" stroke="#333" stroke-width="0.7" /><text x="384.6" y="320" font-size="6.5" fill="#3a3a3a" text-anchor="middle" dominant-baseline="central" font-family="Liberation Sans, sans-serif" transform="rotate(-90 384.6 320)" >ΦD2</text><text x="395.2" y="320" font-size="6.2" fill="#3a3a3a" text-anchor="middle" dominant-baseline="central" font-family="Liberation Sans, sans-serif" transform="rotate(-90 395.2 320)" >ΦD1</text><path d="M424.5,304 H431 Q434,312 431,320 Q433,330 431,338 H424.5 Z" fill="#d4e6f0" stroke="#333" stroke-width="0.8" /><rect x="420.7" y="300.7" width="3.8" height="41.3" rx="0" fill="#d4e6f0" stroke="#333" stroke-width="0.9"/><line x1="402" y1="321" x2="440" y2="321" stroke="#333" stroke-width="0.7" stroke-dasharray="4,1.5,1,1.5"/><path d="M411,304.5 Q396,321 411,337.5" fill="none" stroke="#333" stroke-width="0.7" /><circle cx="411" cy="305.2" r="1.0" fill="#222"/><circle cx="405.2" cy="310.5" r="1.0" fill="#222"/><circle cx="403.8" cy="321" r="1.0" fill="#222"/><circle cx="405.2" cy="331.3" r="1.0" fill="#222"/><circle cx="411" cy="336.8" r="1.0" fill="#222"/><text x="395" y="348" font-size="6.2" fill="#3a3a3a" text-anchor="middle" dominant-baseline="central" font-family="Liberation Sans, sans-serif" >n×Φd1</text><line x1="384" y1="351" x2="406.5" y2="351" stroke="#333" stroke-width="0.8"/><line x1="406.5" y1="351" x2="412" y2="337" stroke="#333" stroke-width="0.7"/><line x1="420.7" y1="342" x2="420.7" y2="352" stroke="#333" stroke-width="0.7"/><line x1="424.5" y1="342" x2="424.5" y2="352" stroke="#333" stroke-width="0.7"/><line x1="416" y1="351" x2="438" y2="351" stroke="#333" stroke-width="0.8"/><text x="433.5" y="346.5" font-size="6.2" fill="#3a3a3a" text-anchor="middle" dominant-baseline="central" font-family="Liberation Sans, sans-serif" >T1</text><text x="503" y="297" font-size="6.5" fill="#3a3a3a" text-anchor="middle" dominant-baseline="central" font-family="Liberation Sans, sans-serif" >ΦD02</text><line x1="493.5" y1="300.3" x2="512.2" y2="300.3" stroke="#333" stroke-width="0.8"/><line x1="493.5" y1="300.3" x2="470" y2="346" stroke="#333" stroke-width="0.7"/><path d="M477,308 H470 Q467,315 469,320 Q467,327 470,333 H477 Z" fill="#d4e6f0" stroke="#333" stroke-width="0.8" /><rect x="477" y="302" width="5.2" height="35" rx="0" fill="#d4e6f0" stroke="#333" stroke-width="0.9"/><line x1="477" y1="337" x2="477" y2="350" stroke="#333" stroke-width="0.7"/><line x1="482.2" y1="337" x2="482.2" y2="350" stroke="#333" stroke-width="0.7"/><line x1="482" y1="302" x2="516.7" y2="302" stroke="#333" stroke-width="0.8"/><line x1="516.7" y1="302" x2="516.7" y2="337.5" stroke="#333" stroke-width="0.8"/><line x1="482" y1="337.5" x2="516.7" y2="337.5" stroke="#333" stroke-width="0.8"/><line x1="482" y1="309.7" x2="509" y2="309.7" stroke="#333" stroke-width="0.7"/><line x1="509" y1="309.7" x2="509" y2="330.7" stroke="#333" stroke-width="0.7"/><line x1="482" y1="330.7" x2="509" y2="330.7" stroke="#333" stroke-width="0.7"/><text x="513.7" y="320" font-size="6.2" fill="#3a3a3a" text-anchor="middle" dominant-baseline="central" font-family="Liberation Sans, sans-serif" transform="rotate(-90 513.7 320)" >ΦD4</text><text x="505.2" y="320" font-size="6.2" fill="#3a3a3a" text-anchor="middle" dominant-baseline="central" font-family="Liberation Sans, sans-serif" transform="rotate(-90 505.2 320)" >ΦD3</text><path d="M486,304 Q501,320 486,336" fill="none" stroke="#333" stroke-width="0.7" /><circle cx="485.5" cy="305.5" r="1.0" fill="#222"/><circle cx="493" cy="309.5" r="1.0" fill="#222"/><circle cx="496" cy="320" r="1.0" fill="#222"/><circle cx="493" cy="330.5" r="1.0" fill="#222"/><circle cx="485.5" cy="334.5" r="1.0" fill="#222"/><line x1="481" y1="320" x2="500" y2="320" stroke="#333" stroke-width="0.6" stroke-dasharray="3,1.5"/><text x="468" y="346" font-size="6.2" fill="#3a3a3a" text-anchor="middle" dominant-baseline="central" font-family="Liberation Sans, sans-serif" >T2</text><line x1="464" y1="349" x2="484" y2="349" stroke="#333" stroke-width="0.8"/><text x="507" y="345.7" font-size="6.2" fill="#3a3a3a" text-anchor="middle" dominant-baseline="central" font-family="Liberation Sans, sans-serif" >n×Φd2</text><line x1="494.5" y1="349.3" x2="520" y2="349.3" stroke="#333" stroke-width="0.8"/><line x1="494.5" y1="349.3" x2="492" y2="334" stroke="#333" stroke-width="0.7"/></svg>
</body></html>
